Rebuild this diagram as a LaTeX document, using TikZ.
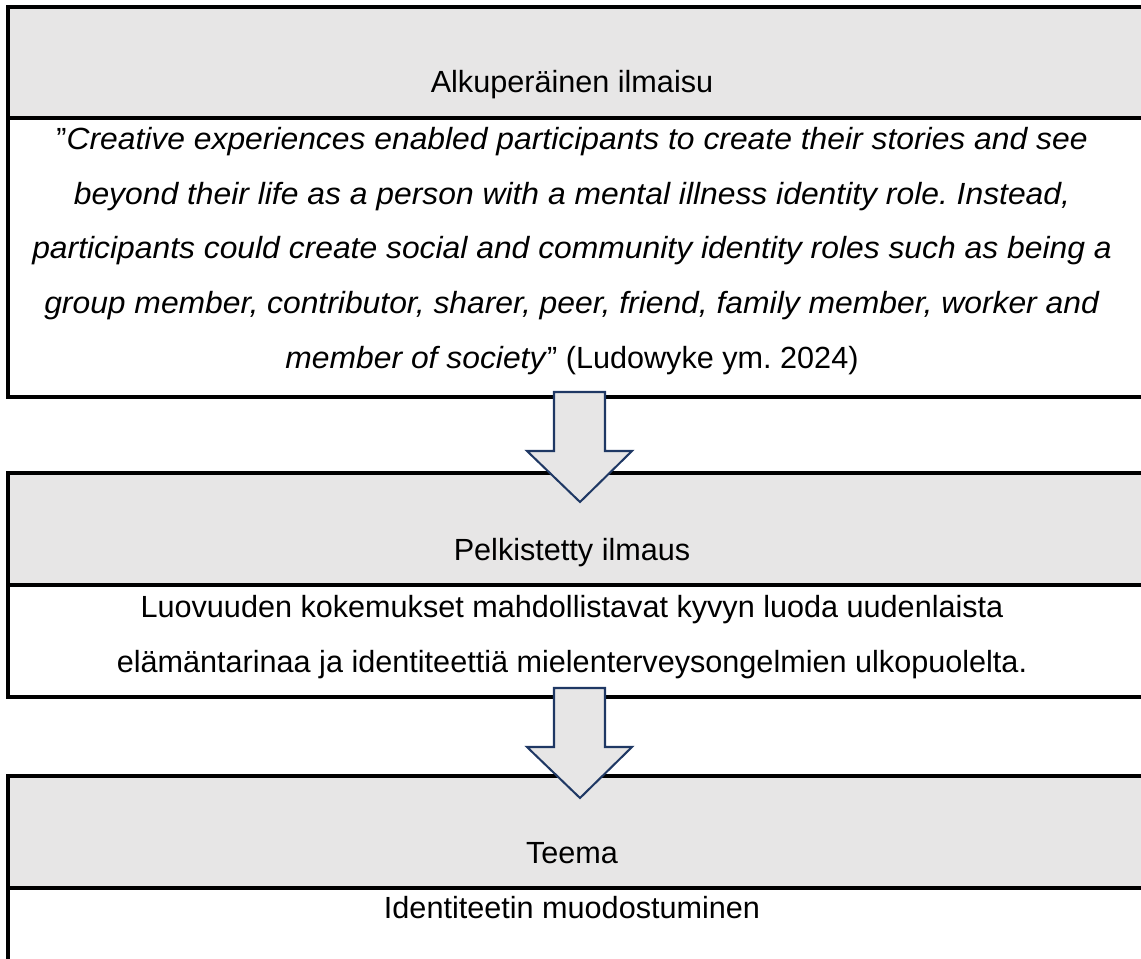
\documentclass[tikz,border=0pt]{standalone}
\usepackage{fontspec}
\setmainfont{Liberation Sans}[ItalicFeatures={FakeStretch=1.04}]
\definecolor{cellgray}{RGB}{231,230,230}
\definecolor{arrownavy}{RGB}{31,56,100}
\tikzset{
  boxline/.style={line width=1.2pt,line cap=butt},
  blockarrow/.style={line width=0.8pt,draw=arrownavy,fill=cellgray,line join=miter},
  txt/.style={inner sep=0pt,font=\fontsize{12}{21.4}\selectfont},
}
\frenchspacing
\begin{document}
\begin{tikzpicture}[x=0.392pt,y=-0.392pt]
  \useasboundingbox (0,0) rectangle (1141,959);
  \clip (0,0) rectangle (1141,959);
  % box 1
  \fill[cellgray] (8,7) rectangle (1145,118);
  \draw[boxline] (1145,7) -- (8,7) -- (8,397) -- (1145,397);
  \draw[boxline] (8,118) -- (1145,118);
  % box 2
  \fill[cellgray] (8,473) rectangle (1145,585);
  \draw[boxline] (1145,473) -- (8,473) -- (8,697) -- (1145,697);
  \draw[boxline] (8,585) -- (1145,585);
  % box 3
  \fill[cellgray] (8,776) rectangle (1145,888);
  \draw[boxline] (1145,776) -- (8,776) -- (8,962);
  \draw[boxline] (8,888) -- (1145,888);
  % texts
  \node[txt,anchor=base] (ilmaisu) at (572,93) {Alkuperäinen ilmaisu};
  \node[txt,anchor=north,align=center] (lainaus) at (572,127)
    {”\textit{Creative experiences enabled participants to create their stories and see}\\
     \textit{beyond their life as a person with a mental illness identity role. Instead,}\\
     \textit{participants could create social and community identity roles such as being a}\\
     \textit{group member, contributor, sharer, peer, friend, family member, worker and}\\
     \textit{member of society}” (Ludowyke ym. 2024)};
  \node[txt,anchor=base] (pelkistys) at (572,560) {Pelkistetty ilmaus};
  \node[txt,anchor=north,align=center] (pelkistetty) at (572,595)
    {Luovuuden kokemukset mahdollistavat kyvyn luoda uudenlaista\\
     elämäntarinaa ja identiteettiä mielenterveysongelmien ulkopuolelta.};
  \node[txt,anchor=base] (teema) at (572,863) {Teema};
  \node[txt,anchor=base] (tulos) at (572,918) {Identiteetin muodostuminen};
  % arrows
  \draw[blockarrow] (554,392) -- (605,392) -- (605,451) -- (632,451) -- (580,502)
    -- (527,451) -- (554,451) -- cycle;
  \draw[blockarrow] (554,688) -- (605,688) -- (605,747) -- (632,747) -- (580,798)
    -- (527,747) -- (554,747) -- cycle;
\end{tikzpicture}
\end{document}
